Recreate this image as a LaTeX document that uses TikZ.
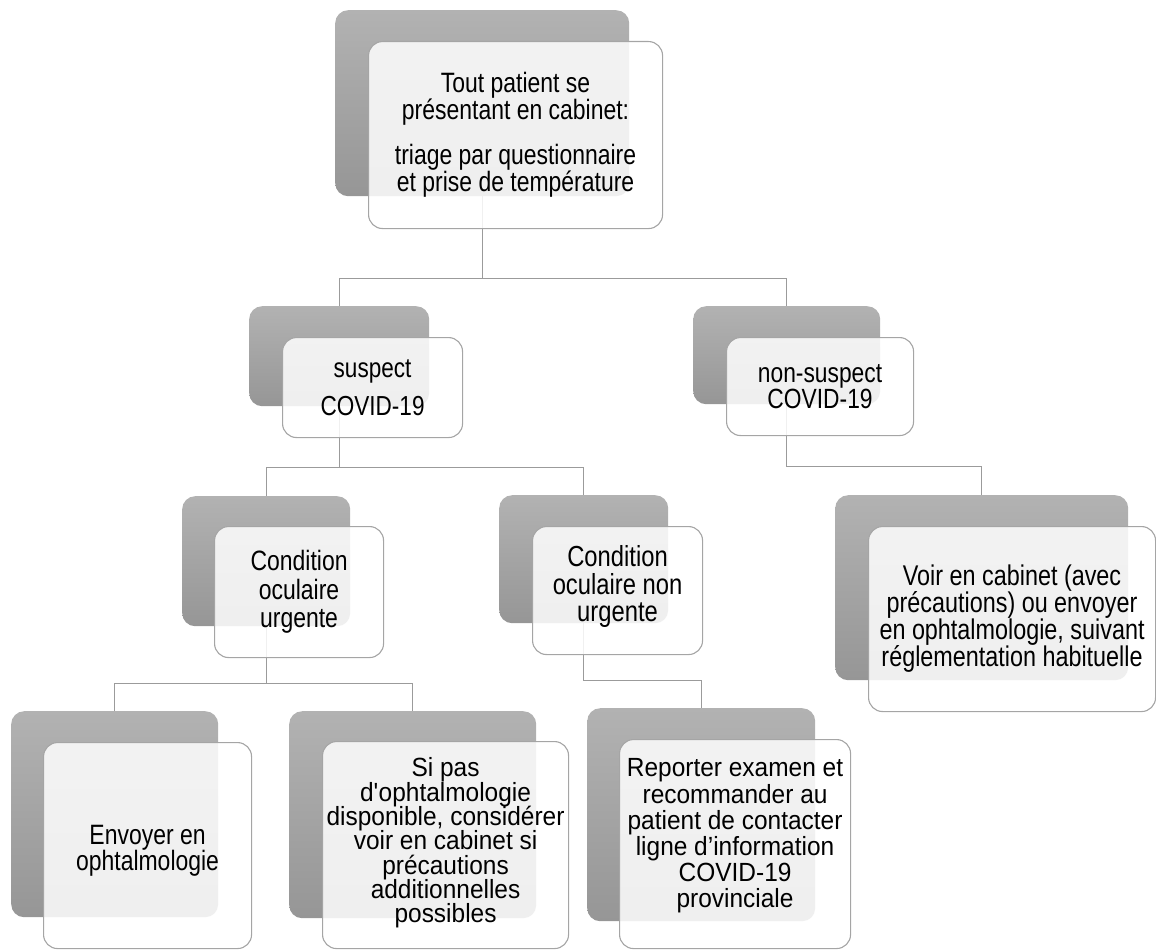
\documentclass[tikz,border=0pt]{standalone}
\usepackage{fontspec}
\setmainfont[FakeStretch=0.82]{Liberation Sans}
\newfontfamily\widerfont[FakeStretch=0.93]{Liberation Sans}
\definecolor{backtop}{RGB}{178,178,178}
\definecolor{backbot}{RGB}{150,150,150}
\definecolor{edgec}{RGB}{165,165,165}
\definecolor{connc}{RGB}{155,155,155}
\newcommand\setfs[2]{\fontsize{#1pt}{#2pt}\selectfont\lineskiplimit=-40pt\relax}
\tikzset{
  backbox/.style={rounded corners=13pt, top color=backtop, bottom color=backbot, draw=none, inner sep=0pt, anchor=north west},
  frontbox/.style={rounded corners=14pt, fill=white, fill opacity=0.85, draw=edgec, line width=1.1pt, inner sep=0pt, anchor=north west},
  conn/.style={draw=connc, line width=1.3pt},
  lbl/.style={align=center, inner sep=0pt, text=black},
}
\begin{document}
\begin{tikzpicture}[x=1pt,y=-1pt]
\useasboundingbox (0,0) rectangle (1156,950);
% back boxes
\node[backbox, minimum width=294pt, minimum height=186pt] (topB) at (335,10) {};
\node[backbox, minimum width=180pt, minimum height=100pt] (suspB) at (249,306) {};
\node[backbox, minimum width=187pt, minimum height=98pt] (nonB) at (693,306) {};
\node[backbox, minimum width=168pt, minimum height=130pt] (urgB) at (182,496) {};
\node[backbox, minimum width=169pt, minimum height=128pt] (nurgB) at (499,495) {};
\node[backbox, minimum width=293pt, minimum height=185pt] (voirB) at (835,495) {};
\node[backbox, minimum width=207pt, minimum height=206pt] (envB) at (11,711) {};
\node[backbox, minimum width=247pt, minimum height=207pt] (siB) at (289,711) {};
\node[backbox, minimum width=228pt, minimum height=213pt] (repB) at (587,708) {};
% connectors
\draw[conn] (topB.south) -- ++(0,82) -| (suspB.north);
\draw[conn] (topB.south) -- ++(0,82) -| (nonB.north);
\draw[conn] (suspB.south) -- ++(0,61) -| (urgB.north);
\draw[conn] (suspB.south) -- ++(0,61) -| (nurgB.north);
\draw[conn] (nonB.south) -- ++(0,62) -| (voirB.north);
\draw[conn] (urgB.south) -- ++(0,57) -| (envB.north);
\draw[conn] (urgB.south) -- ++(0,57) -| (siB.north);
\draw[conn] (nurgB.south) -- ++(0,57) -| (repB.north);
% front boxes
\node[frontbox, minimum width=294pt, minimum height=187pt] (topF) at (368,41) {};
\node[frontbox, minimum width=180pt, minimum height=100pt] (suspF) at (282,337) {};
\node[frontbox, minimum width=187pt, minimum height=98pt] (nonF) at (726,337) {};
\node[frontbox, minimum width=169pt, minimum height=131pt] (urgF) at (214,526) {};
\node[frontbox, minimum width=170pt, minimum height=128pt] (nurgF) at (532,526) {};
\node[frontbox, minimum width=287pt, minimum height=185pt] (voirF) at (868,526) {};
\node[frontbox, minimum width=208pt, minimum height=206pt] (envF) at (43,742) {};
\node[frontbox, minimum width=246pt, minimum height=207pt] (siF) at (322,741) {};
\node[frontbox, minimum width=231pt, minimum height=209pt] (repF) at (619,739) {};
% labels
\node[lbl, font=\setfs{28}{27}] (topT) at (topF.center) {Tout patient se\\présentant en cabinet:\\[18pt]triage par questionnaire\\et prise de température};
\node[lbl, font=\setfs{27.5}{27}] (suspT) at (suspF.center) {suspect\\[11pt]COVID-19};
\node[lbl, font=\setfs{27.8}{26}] (nonT) at (nonF.center) {non-suspect\\COVID-19};
\node[lbl, font=\setfs{28}{28.5}] (urgT) at (urgF.center) {Condition\\oculaire\\urgente};
\node[lbl, font=\setfs{29}{27.5}, yshift=4pt] (nurgT) at (nurgF.center) {Condition\\oculaire non\\urgente};
\node[lbl, font=\setfs{28.5}{27}] (voirT) at (voirF.center) {Voir en cabinet (avec\\précautions) ou envoyer\\en ophtalmologie, suivant\\réglementation habituelle};
\node[lbl, font=\setfs{28}{26}, yshift=-5pt] (envT) at (envF.center) {Envoyer en\\ophtalmologie};
\node[lbl, font=\widerfont\setfs{26.3}{24.3}, yshift=2pt] (siT) at (siF.center) {Si pas\\d\textquotesingle ophtalmologie\\disponible, considérer\\voir en cabinet si\\précautions\\additionnelles\\possibles};
\node[lbl, font=\widerfont\setfs{26.3}{26.2}, yshift=8pt] (repT) at (repF.center) {Reporter examen et\\recommander au\\patient de contacter\\ligne d’information\\COVID-19\\provinciale};
\end{tikzpicture}
\end{document}
